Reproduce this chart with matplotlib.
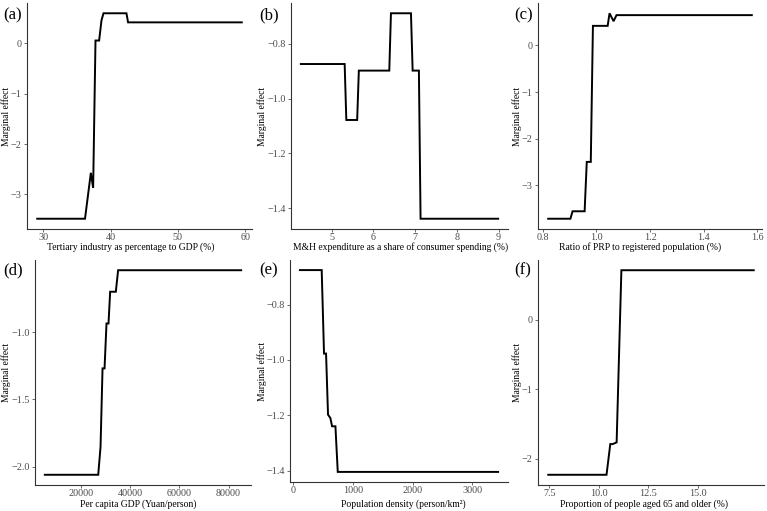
import numpy as np
import matplotlib
matplotlib.use("Agg")
import matplotlib.pyplot as plt

plt.rcParams['font.family'] = ['Liberation Serif', 'DejaVu Serif']

W, H = 767, 511

# (a) tertiary industry share
a_x = [29.1, 36.2, 37.07, 37.41, 37.76, 38.3, 38.65, 38.95, 42.36, 42.6, 59.5]
a_y = [-3.48, -3.48, -2.57, -2.87, 0.05, 0.05, 0.45, 0.59, 0.59, 0.41, 0.41]

# (b) M&H expenditure share
b_x = [4.26, 5.31, 5.35, 5.61, 5.65, 6.38, 6.42, 6.90, 6.94, 7.09, 7.13, 8.99]
b_y = [-0.874, -0.874, -1.078, -1.078, -0.898, -0.898, -0.689, -0.689, -0.898, -0.898, -1.438, -1.438]

# (c) ratio of PRP to registered population
c_x = [0.820, 0.903, 0.911, 0.956, 0.964, 0.979, 0.987, 1.042, 1.049, 1.064, 1.075, 1.580]
c_y = [-3.72, -3.72, -3.56, -3.56, -2.50, -2.50, 0.42, 0.42, 0.69, 0.52, 0.65, 0.65]

# (d) per capita GDP
d_x = [5474, 27130, 28070, 28880, 29690, 30490, 31300, 31970, 34260, 35200, 85100]
d_y = [-2.061, -2.061, -1.853, -1.270, -1.270, -0.936, -0.936, -0.700, -0.700, -0.540, -0.540]

# (e) population density
e_x = [112, 477, 516, 550, 583, 622, 651, 707, 746, 3432]
e_y = [-0.675, -0.675, -0.977, -0.977, -1.198, -1.21, -1.24, -1.24, -1.405, -1.405]

# (f) share of people aged 65+
f_x = [7.45, 10.39, 10.58, 10.70, 10.90, 11.14, 17.82]
f_y = [-2.228, -2.228, -1.787, -1.787, -1.763, 0.711, 0.711]

panels = [
    ("(a)", a_x, a_y, [30, 40, 50, 60], ["30", "40", "50", "60"],
     [0, -1, -2, -3], "Tertiary industry as percentage to GDP (%)", (27, 3, 252, 229), 131),
    ("(b)", b_x, b_y, [5, 6, 7, 8, 9], ["5", "6", "7", "8", "9"],
     [-0.8, -1.0, -1.2, -1.4], "M&H expenditure as a share of consumer spending (%)", (291, 3, 508, 229), 401),
    ("(c)", c_x, c_y, [0.8, 1.0, 1.2, 1.4, 1.6], ["0.8", "1.0", "1.2", "1.4", "1.6"],
     [0, -1, -2, -3], "Ratio of PRP to registered population (%)", (538, 3, 762, 229), 640),
    ("(d)", d_x, d_y, [20000, 40000, 60000, 80000], ["20000", "40000", "60000", "80000"],
     [-1.0, -1.5, -2.0], "Per capita GDP (Yuan/person)", (35, 260, 251, 485), 138),
    ("(e)", e_x, e_y, [0, 1000, 2000, 3000], ["0", "1000", "2000", "3000"],
     [-0.8, -1.0, -1.2, -1.4], "Population density (person/km²)", (290, 260, 508, 482), 403),
    ("(f)", f_x, f_y, [7.5, 10.0, 12.5, 15.0], ["7.5", "10.0", "12.5", "15.0"],
     [0, -1, -2], "Proportion of people aged 65 and older (%)", (538, 260, 764, 485), 644),
]

fig = plt.figure(figsize=(W / 100, H / 100), dpi=100)

for i, (tag, xs, ys, xt, xtl, yt, xlabel, box, title_x) in enumerate(panels):
    l, t, r, b = box
    ax = fig.add_axes([l / W, 1 - b / H, (r - l) / W, (b - t) / H])
    ax.plot(xs, ys, color='black', lw=1.4, solid_joinstyle='miter')
    ax.margins(0.05)
    ax.set_xticks(xt)
    ax.set_xticklabels(xtl)
    ax.set_yticks(yt)
    if tag in ("(a)", "(c)", "(f)"):
        ax.set_yticklabels(["0" if v == 0 else "\u2212%d" % abs(v) for v in yt])
    else:
        ax.set_yticklabels(["\u2212%.1f" % abs(v) for v in yt])
    for s in ("top", "right"):
        ax.spines[s].set_visible(False)
    for s in ("left", "bottom"):
        ax.spines[s].set_linewidth(0.8)
        ax.spines[s].set_color('#333333')
    ax.tick_params(direction='out', length=2.5, width=0.6, color='#555555',
                   labelcolor='#4d4d4d', labelsize=7.3, pad=1.2)
    ax.tick_params(axis='x', pad=0.3)
    ax.set_xlabel(xlabel, fontsize=6.9)
    col = i % 3
    row = i // 3
    ax.xaxis.set_label_coords(title_x / W, 1 - [247, 504][row] / H, transform=fig.transFigure)
    ax.xaxis.label.set_va('center')
    # y-axis title, placed at a fixed spot left of each panel
    fig.text([6, 262, 517][col] / W, 1 - (t + b) / 2 / H, "Marginal effect",
             fontsize=6.9, rotation=90, ha='center', va='center')
    fig.text([3, 259, 514][col] / W, 1 - [15, 270][row] / H, tag,
             fontsize=12, va='center', ha='left')

fig.savefig("out.png", dpi=100, facecolor='white')
